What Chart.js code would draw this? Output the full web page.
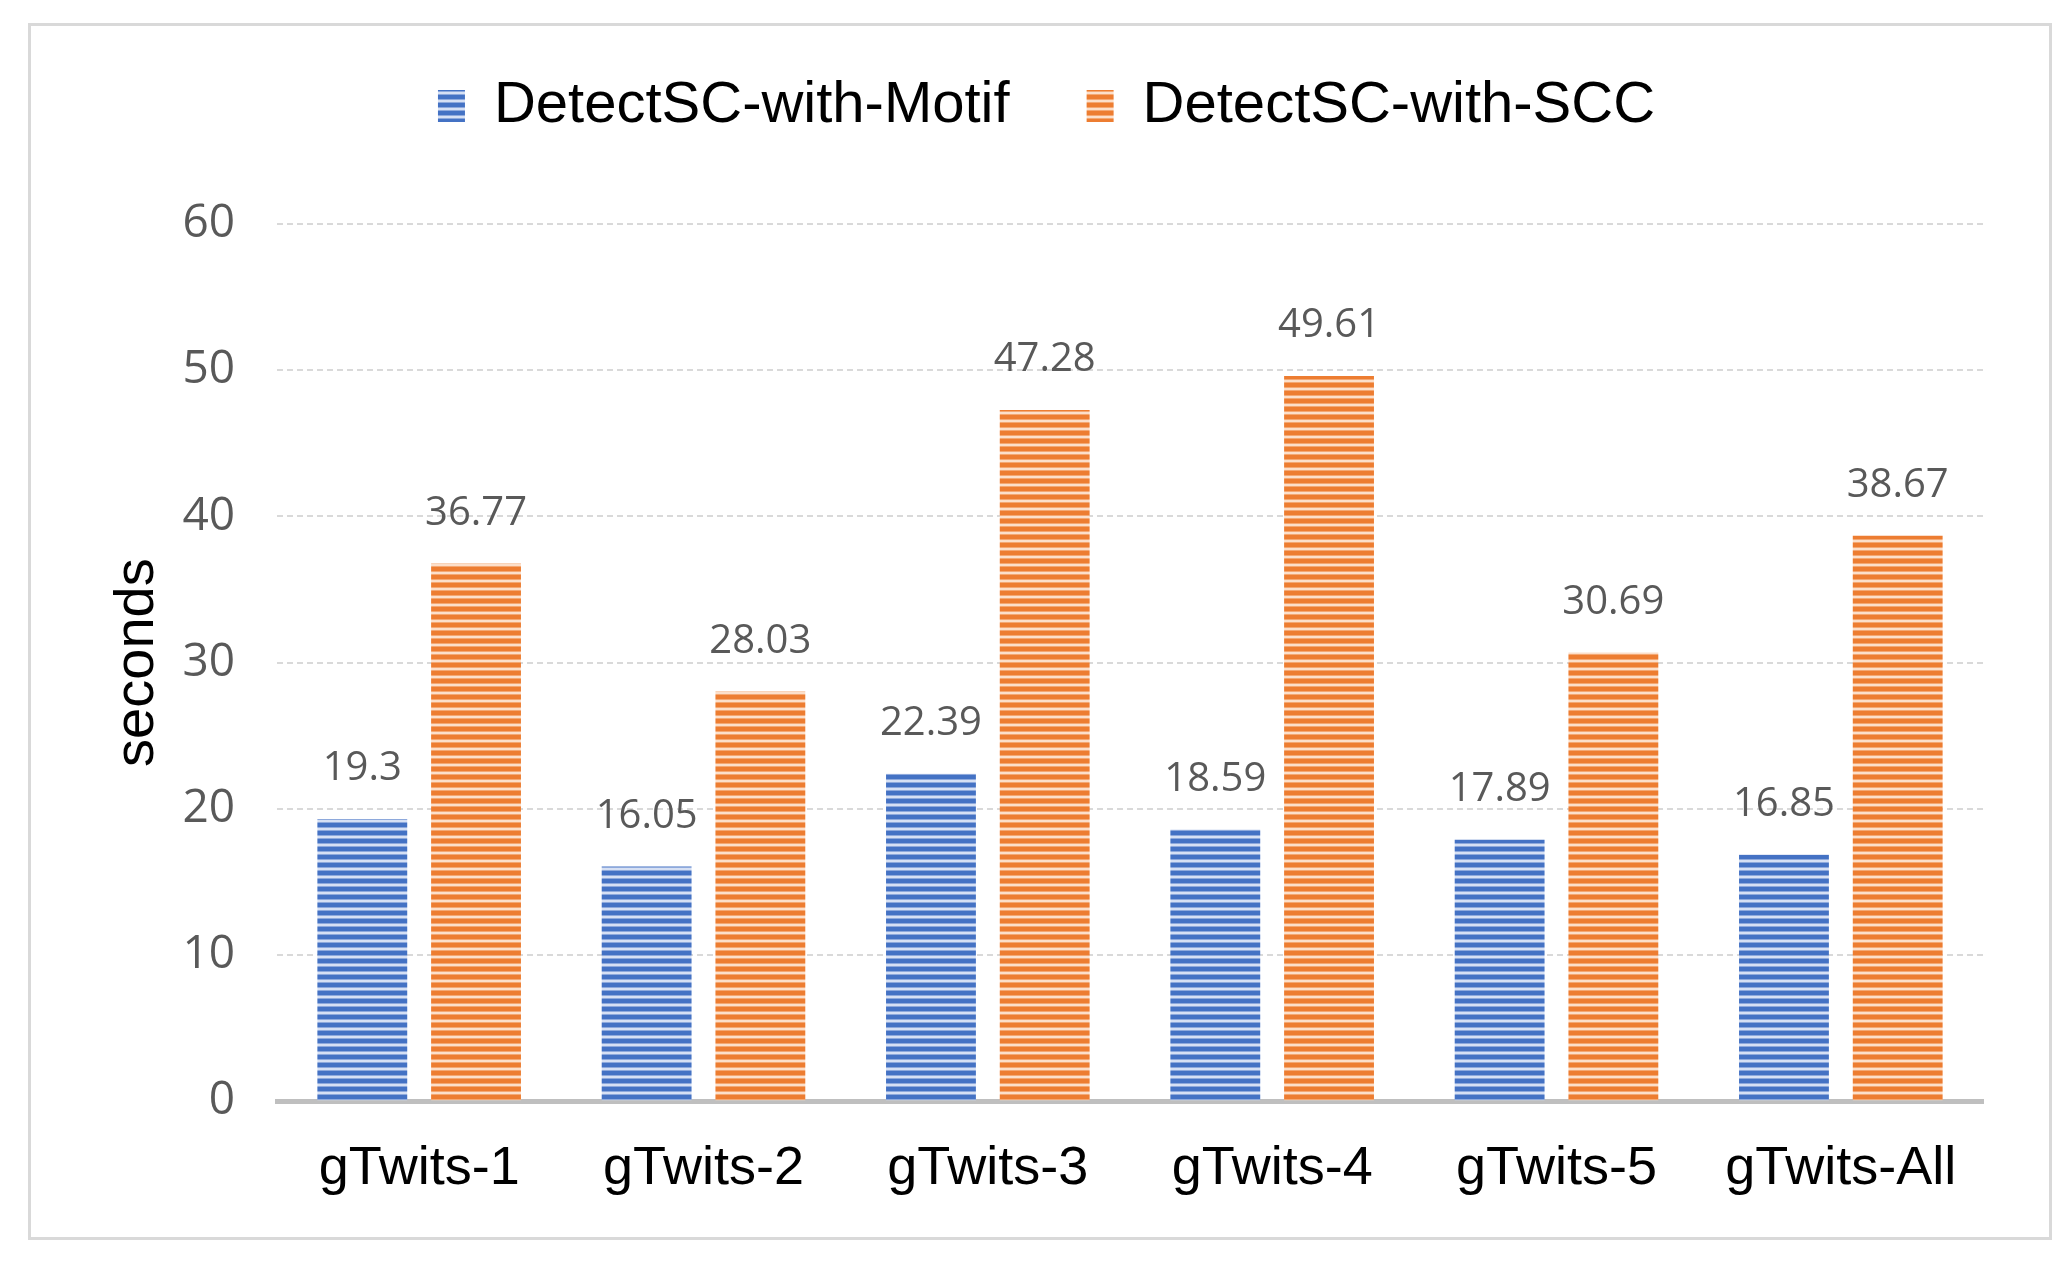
<!DOCTYPE html>
<html>
<head>
<meta charset="utf-8">
<title>DetectSC runtime</title>
<script src="https://cdn.jsdelivr.net/npm/chart.js@4/dist/chart.umd.min.js"></script>
<style>
    html, body { margin: 0; padding: 0; background: #fff; }
    #wrap { position: relative; width: 2070px; height: 1262px; }
    #frame {
        position: absolute; left: 28px; top: 23px; width: 2018px; height: 1211px;
        border: 3px solid #d9d9d9;
    }
    #myChart { position: absolute; left: 0; top: 0; }
</style>
</head>
<body>
<div id="wrap">
    <div id="frame"></div>
    <canvas id="myChart" width="2070" height="1262"></canvas>
</div>
<script>
// data
const categories = ["gTwits-1", "gTwits-2", "gTwits-3", "gTwits-4", "gTwits-5", "gTwits-All"];
const seriesNames = ["DetectSC-with-Motif", "DetectSC-with-SCC"];
const motifTimes = [19.3, 16.05, 22.39, 18.59, 17.89, 16.85];
const sccTimes = [36.77, 28.03, 47.28, 49.61, 30.69, 38.67];
const yTicks = [0, 10, 20, 30, 40, 50, 60];

// horizontal striped fill like the excel bars
function stripes(dark, mid, light) {
    const c = document.createElement("canvas");
    c.width = 4;
    c.height = 8;
    const g = c.getContext("2d");
    const rows = [dark, dark, dark, mid, light, light, mid, dark];
    rows.forEach((col, i) => {
        g.fillStyle = col;
        g.fillRect(0, i, 4, 1);
    });
    return g.createPattern(c, "repeat");
}

const ctx = document.getElementById("myChart").getContext("2d");
const blueFill = stripes("#4472c4", "#8ea9dc", "#d6e0f4");
const orangeFill = stripes("#ed7d31", "#f4a873", "#fcdfca");

// legend needs more room below it
const legendSpace = {
    id: "legendSpace",
    beforeInit(chart) {
        const fit = chart.legend.fit;
        chart.legend.fit = function () {
            fit.bind(chart.legend)();
            this.height = 224;
        };
    }
};

// value labels above each bar
const valueLabels = {
    id: "valueLabels",
    afterDatasetsDraw(chart) {
        const c = chart.ctx;
        c.save();
        c.font = "40px 'Open Sans'";
        c.fillStyle = "#595959";
        c.textAlign = "center";
        c.textBaseline = "middle";
        chart.data.datasets.forEach((ds, i) => {
            chart.getDatasetMeta(i).data.forEach((bar, j) => {
                c.fillText(String(ds.data[j]), bar.x, bar.y - 50);
            });
        });
        c.restore();
    }
};

new Chart(ctx, {
    type: "bar",
    data: {
        labels: categories,
        datasets: [{
            label: seriesNames[0],
            data: motifTimes,
            backgroundColor: blueFill,
            borderWidth: 0,
            categoryPercentage: 0.8,
            barPercentage: 0.79
        }, {
            label: seriesNames[1],
            data: sccTimes,
            backgroundColor: orangeFill,
            borderWidth: 0,
            categoryPercentage: 0.8,
            barPercentage: 0.79
        }]
    },
    options: {
        responsive: false,
        animation: false,
        devicePixelRatio: 1,
        layout: {
            padding: { left: 110, right: 87, top: 0, bottom: 24 }
        },
        plugins: {
            tooltip: { enabled: false },
            legend: {
                position: "top",
                labels: {
                    boxWidth: 27,
                    boxHeight: 32,
                    padding: 77,
                    color: "#000",
                    font: { family: "'Liberation Sans', Arial, sans-serif", size: 58 }
                }
            }
        },
        scales: {
            x: {
                grid: { display: false, drawTicks: false },
                border: { display: true, color: "#bfbfbf", width: 5 },
                ticks: {
                    color: "#000",
                    padding: 36,
                    maxRotation: 0,
                    font: { family: "'Liberation Sans', Arial, sans-serif", size: 54 }
                }
            },
            y: {
                min: 0,
                max: 60,
                afterBuildTicks(scale) {
                    scale.ticks = yTicks.map(v => ({ value: v }));
                },
                afterFit(scale) {
                    scale.width = 167;
                },
                grid: {
                    color: "#d9d9d9",
                    lineWidth: 2,
                    drawTicks: false
                },
                border: { display: false, dash: [6, 4] },
                ticks: {
                    color: "#595959",
                    padding: 42,
                    font: { family: "'Open Sans', sans-serif", size: 46 }
                },
                title: {
                    display: true,
                    text: "seconds",
                    color: "#000",
                    padding: 0,
                    font: { family: "'Liberation Sans', Arial, sans-serif", size: 56, lineHeight: 1 }
                }
            }
        }
    },
    plugins: [legendSpace, valueLabels]
});
</script>
</body>
</html>
